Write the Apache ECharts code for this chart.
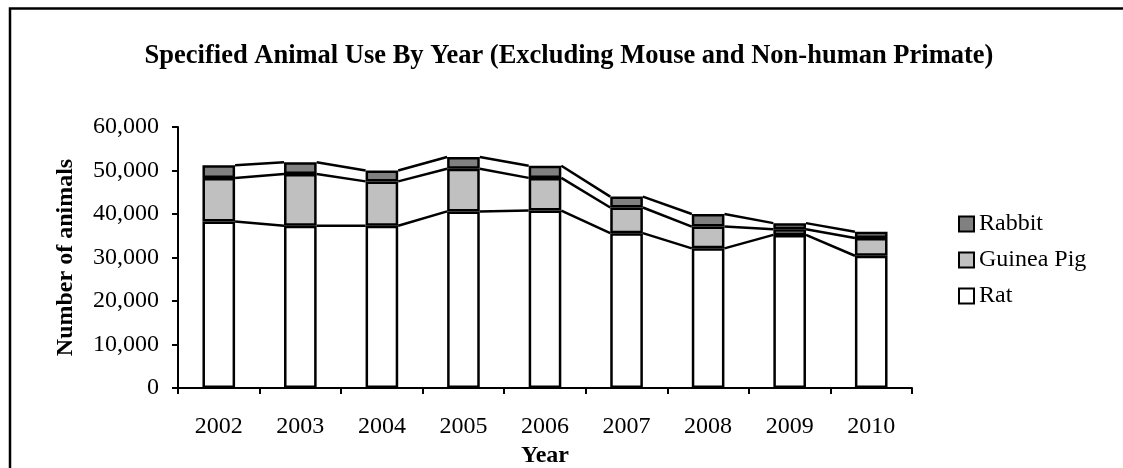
<!DOCTYPE html>
<html>
<head>
<meta charset="utf-8">
<script src="https://cdn.jsdelivr.net/npm/echarts@6/dist/echarts.min.js"></script>
<style>
html,body{margin:0;padding:0;background:#fff;}
#chart{width:1123px;height:468px;}
</style>
</head>
<body>
<div id="chart"></div>
<script>
const years = ['2002','2003','2004','2005','2006','2007','2008','2009','2010'];
const rat = [38300, 37300, 37300, 40600, 40800, 35600, 32100, 35200, 30400];
const guineaPig = [10000, 11900, 10200, 9800, 7500, 5900, 5000, 1300, 4100];
const rabbit = [2900, 2700, 2500, 2700, 2800, 2500, 2900, 1400, 1400];
const yTicks = [0, 10000, 20000, 30000, 40000, 50000, 60000];

const FONT = '"Liberation Serif", "Times New Roman", serif';
const chart = echarts.init(document.getElementById('chart'));

const stacks = [rat, guineaPig, rabbit];
function cum(level, i) {
  let s = 0;
  for (let k = 0; k <= level; k++) s += stacks[k][i];
  return s;
}
const BAR_RATIO = 0.40;
const LW = 2.5;

const option = {
  animation: false,
  backgroundColor: '#fff',
  textStyle: { fontFamily: FONT, color: '#000' },
  title: {
    text: 'Specified Animal Use By Year (Excluding Mouse and Non-human Primate)',
    left: 564, top: 38, textAlign: 'center',
    textStyle: { fontFamily: FONT, fontSize: 26.5, fontWeight: 'bold', color: '#000' }
  },
  graphic: [{
    type: 'rect', left: 7.5, top: 6, silent: true,
    shape: { width: 1200, height: 520 },
    style: { fill: 'none', stroke: '#000', lineWidth: 2.5 }
  }],
  legend: {
    orient: 'vertical', left: 953, top: 207,
    itemWidth: 15, itemHeight: 15, itemGap: 12,
    icon: 'rect',
    data: ['Rabbit', 'Guinea Pig', 'Rat'],
    textStyle: { fontFamily: FONT, fontSize: 24, color: '#000', lineHeight: 24 }
  },
  grid: { left: 178, right: 211, top: 127, bottom: 80, containLabel: false, outerBoundsMode: 'none' },
  xAxis: {
    type: 'category', data: years, boundaryGap: true,
    name: 'Year', nameLocation: 'middle', nameGap: 52,
    nameTextStyle: { fontFamily: FONT, fontSize: 24, fontWeight: 'bold', color: '#000' },
    axisLine: { lineStyle: { color: '#000', width: 2 } },
    axisTick: { show: true, alignWithLabel: false, length: 6, lineStyle: { color: '#000', width: 2 } },
    axisLabel: { fontFamily: FONT, fontSize: 24, color: '#000', margin: 27 },
    splitLine: { show: false }
  },
  yAxis: {
    type: 'value', min: yTicks[0], max: yTicks[yTicks.length - 1], interval: yTicks[1] - yTicks[0],
    name: 'Number of animals', nameLocation: 'middle', nameGap: 100, nameRotate: 90,
    nameTextStyle: { fontFamily: FONT, fontSize: 24, fontWeight: 'bold', color: '#000' },
    axisLine: { show: true, lineStyle: { color: '#000', width: 2 } },
    axisTick: { show: true, length: 6, lineStyle: { color: '#000', width: 2 } },
    axisLabel: {
      fontFamily: FONT, fontSize: 24, color: '#000', margin: 19,
      formatter: v => v.toLocaleString('en-US')
    },
    splitLine: { show: false }
  },
  series: [
    {
      name: 'Rat', type: 'bar', stack: 'total', data: rat, barWidth: (BAR_RATIO * 100) + '%',
      itemStyle: { color: '#ffffff', borderColor: '#000', borderWidth: LW }
    },
    {
      name: 'Guinea Pig', type: 'bar', stack: 'total', data: guineaPig, barWidth: (BAR_RATIO * 100) + '%',
      itemStyle: { color: '#c0c0c0', borderColor: '#000', borderWidth: LW }
    },
    {
      name: 'Rabbit', type: 'bar', stack: 'total', data: rabbit, barWidth: (BAR_RATIO * 100) + '%',
      itemStyle: { color: '#808080', borderColor: '#000', borderWidth: LW }
    },
    {
      name: 'seriesLines', type: 'custom', z: 5, silent: true,
      data: years.slice(0, -1).map((y, i) => [i, cum(2, i)]),
      renderItem: function (params, api) {
        const i = params.dataIndex;
        const half = api.size([1, 0])[0] * BAR_RATIO / 2;
        const children = [];
        for (let lvl = 0; lvl < 3; lvl++) {
          const p1 = api.coord([i, cum(lvl, i)]);
          const p2 = api.coord([i + 1, cum(lvl, i + 1)]);
          children.push({
            type: 'line',
            shape: { x1: p1[0] + half, y1: p1[1], x2: p2[0] - half, y2: p2[1] },
            style: { stroke: '#000', lineWidth: LW }
          });
        }
        return { type: 'group', children: children };
      }
    }
  ]
};
chart.setOption(option);
</script>
</body>
</html>
